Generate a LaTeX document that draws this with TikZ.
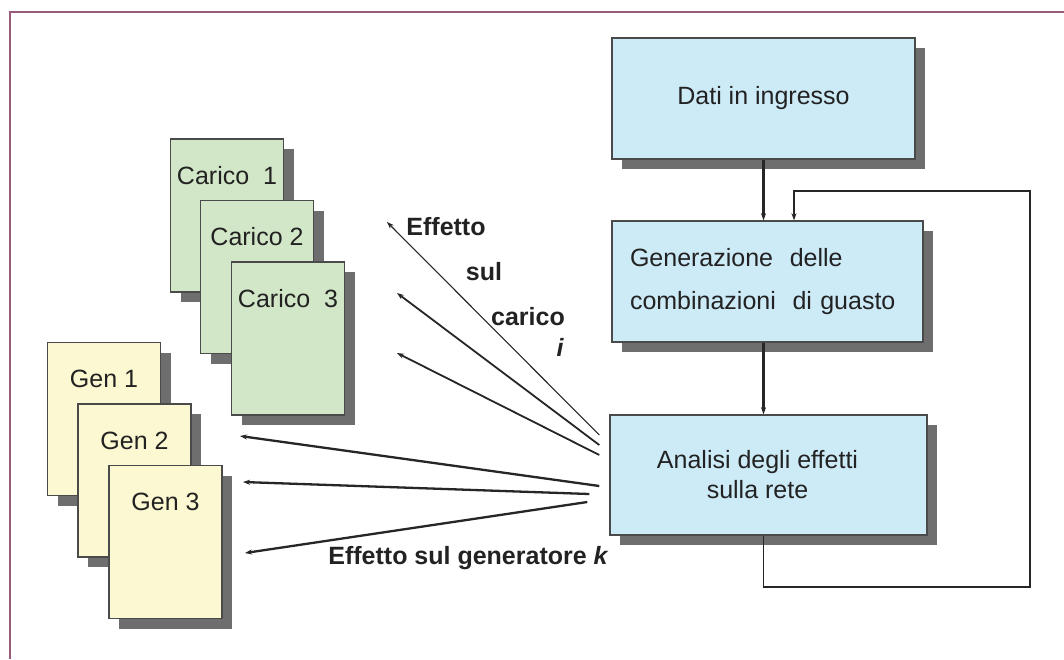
\documentclass[tikz,border=0pt]{standalone}
\usepackage{fontspec}
\setmainfont{Liberation Sans}
\usetikzlibrary{arrows.meta,shadows,calc}
\definecolor{frameC}{HTML}{9A5A7C}
\definecolor{boxblue}{HTML}{CDEAF7}
\definecolor{boxgreen}{HTML}{D2E7C8}
\definecolor{boxyellow}{HTML}{FCF8D2}
\definecolor{boxline}{HTML}{4A4A4A}
\definecolor{shadowgray}{HTML}{6E6E6E}
\definecolor{inkC}{HTML}{222222}
\tikzset{
  box/.style={draw=boxline, line width=1.4pt, inner sep=0pt, text=inkC,
    font=\fontsize{25}{30}\selectfont,
    drop shadow={shadow xshift=10pt, shadow yshift=-10pt, fill=shadowgray, opacity=1}},
  card/.style={box, minimum width=113pt, minimum height=153pt,
    text height=45pt, text depth=108pt},
  loadcard/.style={card, fill=boxgreen},
  gencard/.style={card, fill=boxyellow},
  stepblock/.style={box, fill=boxblue, minimum height=121pt},
  lbl/.style={text=inkC, font=\fontsize{25}{30}\selectfont\bfseries, inner sep=0pt},
  tipA/.style={-{Stealth[length=7pt,width=5pt]}},
  flow/.style={tipA, line width=2.2pt, draw=black!85},
  fan/.style={tipA, line width=1.8pt, draw=black!85},
  fanthin/.style={tipA, line width=1.1pt, draw=black!85},
  fangen/.style={tipA, line width=2.3pt, draw=black!85},
  framestyle/.style={draw=frameC, line width=2.5pt}
}
\begin{document}
\begin{tikzpicture}[x=1pt,y=-1pt]
\useasboundingbox (0,0) rectangle (1064,659);
\fill[white] (0,0) rectangle (1064,659);
\draw[framestyle] (1064,12) -- (10,12) -- (10,659);

% load cards
\node[loadcard] (c1) at (227,215.5) {Carico\ \ 1};
\node[loadcard] (c2) at (257,277) {Carico 2};
\node[loadcard] (c3) at (288,338.5) {Carico\ \ 3};

% generator cards
\node[gencard] (g1) at (104,419) {Gen 1};
\node[gencard] (g2) at (134.5,480.5) {Gen 2};
\node[gencard] (g3) at (165.5,542) {Gen 3};

% flow blocks
\node[stepblock, minimum width=303pt] (dati) at (763.5,98.5) {Dati in ingresso};
\node[stepblock, minimum width=311pt, text width=275pt, align=left,
      font=\fontsize{25}{43}\selectfont] (gen) at (767.5,281.5)
      {Generazione\ \ delle\\combinazioni\ \ di guasto};
\node[stepblock, minimum width=317pt, minimum height=120pt, align=center] (analisi) at (768.5,475)
      {Analisi degli effetti\hspace*{22pt}\\sulla rete\hspace*{22pt}};

% vertical flow
\draw[flow] (dati.south) -- (dati.south |- gen.north);
\draw[flow] (dati.south |- gen.south) -- (dati.south |- analisi.north);
\coordinate (loopR) at (1030,587);
\coordinate (loopT) at (794,191);
\draw[flow, line width=1.8pt] (dati.south |- analisi.south) |- (loopR) |- (loopT) -- (loopT |- gen.north);

% fan to loads
\coordinate (sl1) at ($(analisi.west)+(-10,-40)$);
\coordinate (sl2) at ($(analisi.west)+(-10,-30)$);
\coordinate (sl3) at ($(analisi.west)+(-10,-20)$);
\coordinate (tl1) at (387,222);
\coordinate (tl2) at (397,293);
\coordinate (tl3) at (397,353);
\draw[fanthin] (sl1) -- (tl1);
\draw[fan] (sl2) -- (tl2);
\draw[fan] (sl3) -- (tl3);

% fan to generators
\coordinate (sg1) at ($(analisi.west)+(-10,11)$);
\coordinate (sg2) at ($(analisi.west)+(-20,19)$);
\coordinate (sg3) at ($(analisi.west)+(-22,27)$);
\coordinate (tg1) at (240,436);
\coordinate (tg2) at (243,482);
\coordinate (tg3) at (245,553);
\draw[fangen] (sg1) -- (tg1);
\draw[fangen] (sg2) -- (tg2);
\draw[fangen] (sg3) -- (tg3);

% labels
\node[lbl] (l1) at (446,227) {Effetto};
\node[lbl] (l2) at (484,272) {sul};
\node[lbl] (l3) at (528,317) {carico};
\node[lbl] (l4) at (560,347) {\itshape i};
\node[lbl] (l5) at (468.5,558) {Effetto sul generatore \textit{k}};
\end{tikzpicture}
\end{document}
